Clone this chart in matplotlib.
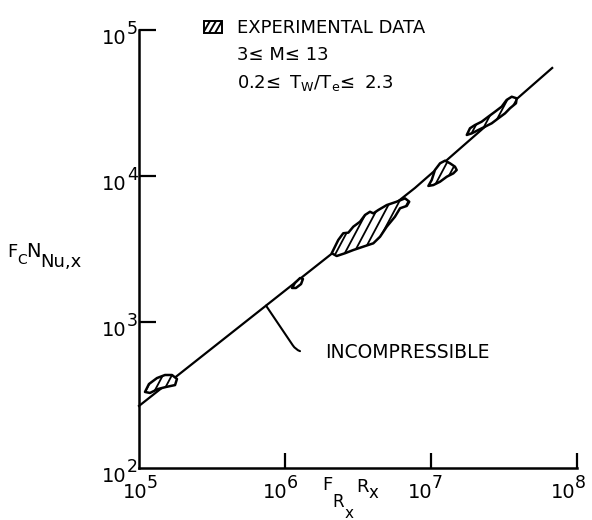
import numpy as np
import matplotlib
matplotlib.use("Agg")
import matplotlib.pyplot as plt
from matplotlib.patches import Rectangle
from matplotlib.collections import LineCollection

plt.rcParams["font.family"] = ["DejaVu Sans"]
plt.rcParams["mathtext.fontset"] = "dejavusans"

# ---------------- data (log10 values) ----------------
line_logx = [5.0, 6.89, 7.83]
line_logy = [2.425, 3.918, 4.74]

blob1_logx = [5.041, 5.068, 5.123, 5.178, 5.226, 5.260, 5.247, 5.185, 5.130, 5.075]
blob1_logy = [2.521, 2.575, 2.616, 2.637, 2.637, 2.610, 2.568, 2.555, 2.541, 2.514]

blob2_logx = [6.048, 6.068, 6.103, 6.123, 6.110, 6.075]
blob2_logy = [3.233, 3.267, 3.301, 3.295, 3.260, 3.233]

blob3_logx = [6.320, 6.365, 6.399, 6.434, 6.468, 6.514, 6.548, 6.582, 6.605, 6.639,
              6.697, 6.765, 6.822, 6.851, 6.834, 6.788, 6.753, 6.697, 6.651, 6.605,
              6.536, 6.468, 6.411, 6.354]
blob3_logy = [3.471, 3.562, 3.608, 3.612, 3.653, 3.687, 3.733, 3.755, 3.744, 3.767,
              3.801, 3.824, 3.847, 3.824, 3.795, 3.779, 3.721, 3.653, 3.584, 3.539,
              3.516, 3.493, 3.471, 3.452]

blob4_logx = [6.982, 7.005, 7.027, 7.062, 7.096, 7.130, 7.164, 7.176, 7.153, 7.108, 7.062, 7.016]
blob4_logy = [3.932, 3.973, 4.041, 4.087, 4.105, 4.087, 4.064, 4.041, 4.018, 3.995, 3.961, 3.938]

blob5_logx = [7.245, 7.267, 7.301, 7.347, 7.392, 7.438, 7.484, 7.518, 7.553, 7.587,
              7.582, 7.541, 7.507, 7.461, 7.416, 7.370, 7.324, 7.279]
blob5_logy = [4.281, 4.327, 4.349, 4.372, 4.406, 4.440, 4.475, 4.521, 4.543, 4.532,
              4.498, 4.464, 4.429, 4.395, 4.361, 4.338, 4.315, 4.292]

blobs_logx = [blob1_logx, blob2_logx, blob3_logx, blob4_logx, blob5_logx]
blobs_logy = [blob1_logy, blob2_logy, blob3_logy, blob4_logy, blob5_logy]

x_ticks = [1e5, 1e6, 1e7, 1e8]
x_tick_exps = ["5", "6", "7", "8"]
y_ticks = [1e2, 1e3, 1e4, 1e5]
y_tick_exps = ["2", "3", "4", "5"]

leader_logx = 5.87

legend_title = "EXPERIMENTAL DATA"
legend_line2 = "3\u2264 M\u2264 13"
legend_line3 = r"$\mathregular{0.2\!\leq\ T_W/T_e\!\leq\ 2.3}$"
line_label = "INCOMPRESSIBLE"

# ---------------- figure ----------------
W, H = 592, 520
fig = plt.figure(figsize=(W / 100, H / 100), dpi=100)
ax = fig.add_axes([139 / W, 1 - 468 / H, 438 / W, 438 / H])
ax.set_xscale("log")
ax.set_yscale("log")
ax.set_xlim(1e5, 1e8)
ax.set_ylim(1e2, 1e5)
ax.set_autoscale_on(False)

for s in ["top", "right"]:
    ax.spines[s].set_visible(False)
for s in ["left", "bottom"]:
    ax.spines[s].set_linewidth(1.8)

ax.set_xticks(x_ticks)
ax.set_yticks(y_ticks)
ax.minorticks_off()
ax.tick_params(which="both", direction="in", length=12, width=1.6,
               labelbottom=False, labelleft=False)
ax.xaxis.set_tick_params(length=11)
for t in ax.yaxis.get_major_ticks()[:1] + ax.xaxis.get_major_ticks()[:1]:
    t.tick1line.set_visible(False)

# main line
lx = 10 ** np.array(line_logx)
ly = 10 ** np.array(line_logy)
ax.plot(lx, ly, color="black", lw=1.6, zorder=2, clip_on=False)


def hatch_segments(spacing_px, angle_deg, size_px):
    cot = 1.0 / np.tan(np.radians(angle_deg))
    step = spacing_px / size_px
    offs = np.arange(-1.5, 1.5, step)
    return [[(c, -0.2), (c + 1.4 * cot, 1.2)] for c in offs]


hatch_segs = hatch_segments(9.0, 62, 438)

# hatched experimental regions
for bx, by in zip(blobs_logx, blobs_logy):
    xs = 10 ** np.array(bx)
    ys = 10 ** np.array(by)
    face = ax.fill(xs, ys, facecolor="white", edgecolor="none", zorder=3)[0]
    lc = LineCollection(hatch_segs, transform=ax.transAxes, colors="black",
                        linewidths=1.3, zorder=3.5)
    ax.add_collection(lc, autolim=False)
    lc.set_clip_path(face)
    ax.fill(xs, ys, facecolor="none", edgecolor="black", lw=1.8, zorder=4,
            joinstyle="round")

# tick labels (10 with large exponent)
for v, e in zip(y_ticks, y_tick_exps):
    ax.annotate("10", xy=(0, v), xycoords=("axes fraction", "data"),
                xytext=(-13, -9), textcoords="offset pixels",
                ha="right", va="center", fontsize=14)
    ax.annotate(e, xy=(0, v), xycoords=("axes fraction", "data"),
                xytext=(-12, 1), textcoords="offset pixels",
                ha="left", va="center", fontsize=12.5)
x_label_dx = [8, 2, 1, -2]
for v, e, dx in zip(x_ticks, x_tick_exps, x_label_dx):
    ax.annotate("10", xy=(v, 0), xycoords=("data", "axes fraction"),
                xytext=(dx, -24), textcoords="offset pixels",
                ha="right", va="center", fontsize=14)
    ax.annotate(e, xy=(v, 0), xycoords=("data", "axes fraction"),
                xytext=(dx, -15), textcoords="offset pixels",
                ha="left", va="center", fontsize=12.5)


def ptext(s, x, y, size, ha="left", va="baseline"):
    fig.text(x / W, 1 - y / H, s, fontsize=size, ha=ha, va=va)


# axis labels built from pieces
ptext("F", 322, 490, 13)
ptext("R", 332, 507, 12)
ptext("x", 345, 518, 11)
ptext("R", 356, 492, 13)
ptext("x", 369, 498, 12)

ptext("F", 7, 257, 13)
ptext("C", 17, 264, 10)
ptext("N", 26, 257, 14)
ptext("Nu,x", 40, 267, 13)

# legend symbol (hatched box) and text
sym = Rectangle((204 / W, 1 - 33 / H), 18 / W, 12 / H, transform=fig.transFigure,
                facecolor="white", edgecolor="black", lw=1.4)
fig.add_artist(sym)
sym_segs = [[((204 + d) / W, 1 - 33 / H), ((204 + d + 7) / W, 1 - 21 / H)]
            for d in [-1, 5, 11]]
sym_lc = LineCollection(sym_segs, transform=fig.transFigure, colors="black", linewidths=1.4)
fig.add_artist(sym_lc)
sym_lc.set_clip_path(sym)

ptext(legend_title, 237, 33, 13)
ptext(legend_line2, 237, 60, 13)
ptext(legend_line3, 237, 88, 13)

# incompressible label with leader
lead_y = 10 ** np.interp(leader_logx, line_logx, line_logy)
ax.annotate(line_label, xy=(10 ** leader_logx, lead_y), xycoords="data",
            xytext=(325 / W, 1 - 352 / H), textcoords="figure fraction",
            ha="left", va="center", fontsize=13.5,
            arrowprops=dict(arrowstyle="-", lw=1.5, color="black",
                            connectionstyle="angle,angleA=0,angleB=-56,rad=8",
                            shrinkA=16, shrinkB=0, relpos=(0, 0.5)))

fig.savefig("out.png", dpi=100, facecolor="white")
